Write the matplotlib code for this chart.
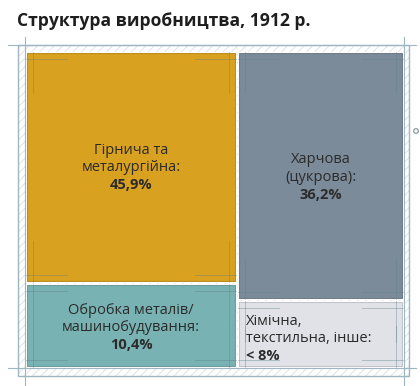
import matplotlib.pyplot as plt
from matplotlib.patches import Rectangle, Circle

# data
sectors = ["Гірнича та\nметалургійна:", "Харчова\n(цукрова):",
           "Обробка металів/\nмашинобудування:", "Хімічна,\nтекстильна, інше:"]
shares = [45.9, 36.2, 10.4, 8.0]
share_labels = ["45,9%", "36,2%", "10,4%", "< 8%"]
colors = ["#D8A11F", "#7B8B9A", "#79B2B3", "#E0E2E7"]

title = "Структура виробництва, 1912 р."

plt.rcParams["font.family"] = ["Open Sans", "DejaVu Sans"]
plt.rcParams["hatch.linewidth"] = 0.7

fig = plt.figure(figsize=(4.2, 3.86), dpi=100)
fig.patch.set_facecolor("white")
ax = fig.add_axes([0, 0, 1, 1])
ax.set_xlim(0, 420)
ax.set_ylim(386, 0)
ax.axis("off")

# layout (pixels)
X0, X1, Y0, Y1 = 26, 403, 52, 367
gap = 2.5
bottom_h = [83, 66]  # bottom row heights for the two columns

frame = "#9DB6C0"
mark = "#5d7f8c"

# hatched border ring
ax.add_patch(Rectangle((18, 45), 391, 331, facecolor="white", edgecolor="#dde3e6",
                       hatch="////", linewidth=0, zorder=1))
ax.add_patch(Rectangle((18, 45), 391, 331, facecolor="none", edgecolor=frame,
                       linewidth=1.0, zorder=5))
# guide lines extending past the frame
ax.plot([8, 416], [45, 45], color=frame, lw=0.8, zorder=5)
ax.plot([8, 416], [Y1 + 1, Y1 + 1], color=frame, lw=0.8, zorder=5)
ax.plot([X0 - 1, X0 - 1], [37, 386], color=frame, lw=0.8, zorder=5)
ax.plot([X1 + 1, X1 + 1], [37, 386], color=frame, lw=0.8, zorder=5)
ax.add_patch(Circle((416, 131), 2.3, facecolor="white", edgecolor="#8a9aa2", lw=0.9, zorder=5))

# column widths from the shares
total = sum(shares)
left_w = (X1 - X0) * (shares[0] + shares[2]) / total
xs = [X0, X0 + left_w + gap / 2]
ws = [left_w - gap / 2, (X1 - X0) - left_w - gap / 2]

order = []
for col in range(2):
    top_h = (Y1 - Y0) - bottom_h[col] - gap
    order.append((xs[col], Y0, ws[col], top_h))
for col in range(2):
    order.append((xs[col], Y1 - bottom_h[col], ws[col], bottom_h[col]))

for (x, y, w, h), c in zip(order, colors):
    ax.add_patch(Rectangle((x, y), w, h, facecolor=c, edgecolor="white",
                           linewidth=0.8, zorder=2))
    ax.add_patch(Rectangle((x + 1, y + 1), w - 2, h - 2, facecolor="none",
                           edgecolor="#00000022", linewidth=0.8, zorder=3))
    # corner marks
    ins, ln = 7, 34
    for cx, sx in [(x + ins, 1), (x + w - ins, -1)]:
        for cy, sy in [(y + ins, 1), (y + h - ins, -1)]:
            ax.plot([cx - sx * ins, cx + sx * ln], [cy, cy], color=mark, lw=0.6, alpha=0.45, zorder=3)
            ax.plot([cx, cx], [cy - sy * ins, cy + sy * ln], color=mark, lw=0.6, alpha=0.45, zorder=3)

txt = "#2b2b2b"
fs = 10.5
lh = 17.5
nudge = [1, 2, 2, 5]
for i, ((x, y, w, h), name, lab) in enumerate(zip(order, sectors, share_labels)):
    lines = name.split("\n")
    if i < 3:
        cx, ha = x + w / 2, "center"
    else:
        cx, ha = x + 8, "left"
    cy = y + h / 2 - lh * len(lines) / 2 + nudge[i]
    for j, line in enumerate(lines):
        ax.text(cx, cy + j * lh, line, ha=ha, va="center", fontsize=fs, color=txt, zorder=6)
    ax.text(cx, cy + len(lines) * lh, lab, ha=ha, va="center", fontsize=fs,
            fontweight="bold", color=txt, zorder=6)

ax.text(17, 21, title, ha="left", va="center", fontsize=12.6, fontweight="bold",
        color="#1e1e1e", zorder=6)

fig.savefig("out.png", dpi=100, facecolor="white")
